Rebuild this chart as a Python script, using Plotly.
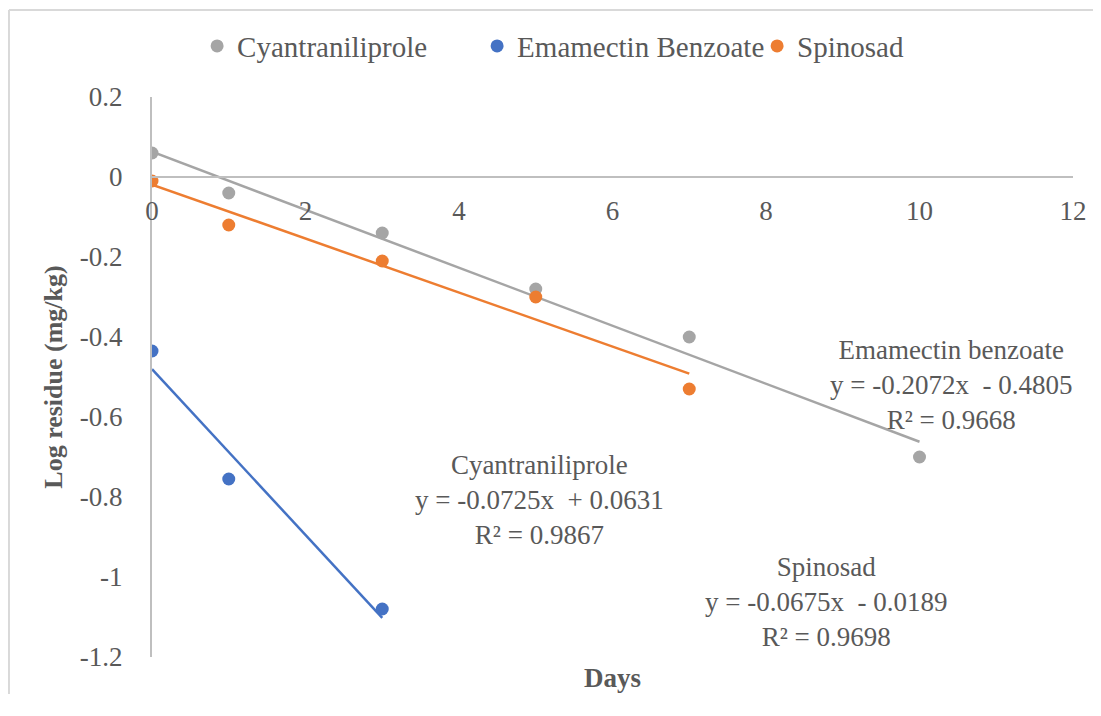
import plotly.graph_objects as go

# ---- data ----
cyan_days = [0, 1, 3, 5, 7, 10]
cyan_log = [0.06, -0.04, -0.14, -0.28, -0.40, -0.70]

ema_days = [0, 1, 3]
ema_log = [-0.435, -0.755, -1.08]

spin_days = [0, 1, 3, 5, 7]
spin_log = [-0.01, -0.12, -0.21, -0.30, -0.53]

series_names = ["Cyantraniliprole", "Emamectin Benzoate", "Spinosad"]
series_colors = ["#A5A5A5", "#4472C4", "#ED7D31"]

# linear trendline coefficients (as shown on chart)
trend_slope = [-0.0725, -0.2072, -0.0675]
trend_intercept = [0.0631, -0.4805, -0.0189]

x_tick_vals = [0, 2, 4, 6, 8, 10, 12]
y_tick_vals = [0.2, 0, -0.2, -0.4, -0.6, -0.8, -1, -1.2]
y_tick_text = ["0.2", "0", "-0.2", "-0.4", "-0.6", "-0.8", "-1", "-1.2"]

eq_labels = [
    "Emamectin benzoate<br>y = -0.2072x\u00a0 - 0.4805<br>R\u00b2 = 0.9668",
    "Cyantraniliprole<br>y = -0.0725x\u00a0 + 0.0631<br>R\u00b2 = 0.9867",
    "Spinosad<br>y = -0.0675x\u00a0 - 0.0189<br>R\u00b2 = 0.9698",
]
eq_x = [10.41, 5.05, 8.78]
eq_y = [-0.52, -0.8075, -1.0625]

FONT = "Liberation Serif, Times New Roman, serif"
TXT = "#595959"

fig = go.Figure()

all_x = [cyan_days, ema_days, spin_days]
all_y = [cyan_log, ema_log, spin_log]

# trendlines
for xs, name, col, m, b in zip(all_x, series_names, series_colors, trend_slope, trend_intercept):
    x0, x1 = min(xs), max(xs)
    fig.add_trace(go.Scatter(
        x=[x0, x1], y=[m * x0 + b, m * x1 + b], mode="lines",
        line=dict(color=col, width=2.5), showlegend=False, hoverinfo="skip"))

# points
for xs, ys, name, col in zip(all_x, all_y, series_names, series_colors):
    fig.add_trace(go.Scatter(
        x=xs, y=ys, mode="markers", name=name,
        marker=dict(color=col, size=13)))

for txt, ax, ay in zip(eq_labels, eq_x, eq_y):
    fig.add_annotation(x=ax, y=ay, xref="x", yref="y", text=txt, showarrow=False,
                       align="center", xanchor="center", yanchor="middle",
                       font=dict(family=FONT, size=27, color=TXT))

fig.add_annotation(x=0.5, y=-0.038, xref="paper", yref="paper", text="<b>Days</b>",
                   showarrow=False, xanchor="center", yanchor="middle",
                   font=dict(family=FONT, size=27, color=TXT))

# outer chart border (only top and left edges visible in the crop)
fig.add_shape(type="line", xref="paper", yref="paper",
              x0=-0.1553, x1=1.05, y0=1.1553, y1=1.1553,
              line=dict(color="#D9D9D9", width=2))
fig.add_shape(type="line", xref="paper", yref="paper",
              x0=-0.1553, x1=-0.1553, y0=-0.12, y1=1.1553,
              line=dict(color="#D9D9D9", width=2))

fig.update_layout(
    width=1085, height=686,
    margin=dict(l=144, r=20, t=89, b=37),
    paper_bgcolor="white", plot_bgcolor="white",
    font=dict(family=FONT, size=27, color=TXT),
    showlegend=True,
    legend=dict(orientation="h", x=0.505, xanchor="center", y=1.091, yanchor="middle",
                font=dict(family=FONT, size=29, color=TXT), itemwidth=30,
                entrywidth=235, entrywidthmode="pixels",
                bgcolor="rgba(0,0,0,0)"),
    xaxis=dict(range=[0, 12], tickvals=x_tick_vals, showgrid=False, zeroline=False,
               showline=True, linecolor="#BFBFBF", linewidth=2, automargin=False,
               anchor="free", position=1.2 / 1.4, ticks="", ticklabelstandoff=10,
               tickfont=dict(family=FONT, size=27, color=TXT)),
    yaxis=dict(range=[-1.2, 0.2], tickvals=y_tick_vals, ticktext=y_tick_text,
               showgrid=False, zeroline=False, showline=True, linecolor="#BFBFBF",
               linewidth=2, ticks="", ticklabelstandoff=22, automargin=False,
               tickfont=dict(family=FONT, size=27, color=TXT),
               title=dict(text="<b>Log residue (mg/kg)</b>", standoff=10,
                          font=dict(family=FONT, size=26, color=TXT))),
)

fig.write_html("out.html")
